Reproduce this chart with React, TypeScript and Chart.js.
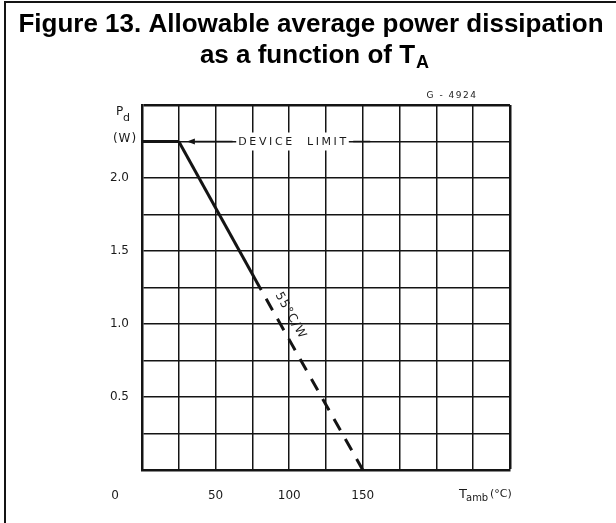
import React, { useEffect, useRef } from "react";
import { Chart, registerables } from "chart.js";

Chart.register(...registerables);

// ---- data ----
const labeledTempTicks = [50, 100, 150];
const labeledPowerTicks = [0.5, 1.0, 1.5, 2.0];
const deviceLimitT = [0, 25];
const deviceLimitP = [2.25, 2.25];
const deratingSolidT = [25, 80];
const deratingSolidP = [2.25, 1.25];
const deratingDashT = [80, 150];
const deratingDashP = [1.25, 0];

const INK = "#141414";
const SANS = '"Liberation Sans", Arial, Helvetica, sans-serif';
const TECH = '"DejaVu Sans", sans-serif';

const toPoints = (xs: number[], ys: number[]) => xs.map((x, i) => ({ x, y: ys[i] }));

const annotationPlugin = {
  id: "annotations",
  beforeDraw(chart: any) {
    const c = chart.ctx;
    c.save();
    c.fillStyle = "#ffffff";
    c.fillRect(0, 0, chart.width, chart.height);
    c.restore();
  },
  afterDraw(chart: any) {
    const c: CanvasRenderingContext2D = chart.ctx;
    const xs = chart.scales.x;
    const ys = chart.scales.y;
    c.save();

    // outer frame (left + top)
    c.fillStyle = INK;
    c.fillRect(4, 1, 2, chart.height - 1);
    c.fillRect(4, 1, chart.width - 4, 2);

    // title
    c.fillStyle = "#000";
    c.textBaseline = "alphabetic";
    c.textAlign = "left";
    c.font = `bold 26px ${SANS}`;
    const l1 = "Figure 13. Allowable average power dissipation";
    const w1 = c.measureText(l1).width;
    c.fillText(l1, 311 - w1 / 2, 32);
    const l2 = "as a function of T";
    const w2 = c.measureText(l2).width;
    c.font = `bold 18px ${SANS}`;
    const wA = c.measureText("A").width;
    const start2 = 314 - (w2 + wA) / 2;
    c.font = `bold 26px ${SANS}`;
    c.fillText(l2, start2, 63);
    c.font = `bold 18px ${SANS}`;
    c.fillText("A", start2 + w2 + 1, 68);

    // drawing number
    c.fillStyle = "#1a1a1a";
    c.font = `9px ${TECH}`;
    (c as any).letterSpacing = "1.5px";
    c.textAlign = "center";
    c.fillText("G - 4924", 452, 98);

    // y-axis title Pd (W)
    c.textAlign = "left";
    (c as any).letterSpacing = "0px";
    c.font = `12px ${TECH}`;
    c.fillText("P", 116, 115);
    c.font = `11px ${TECH}`;
    c.fillText("d", 123, 121);
    c.font = `12px ${TECH}`;
    c.textAlign = "center";
    (c as any).letterSpacing = "1px";
    c.fillText("(W)", 125, 142);

    // x-axis: "0" and T_amb(°C)
    (c as any).letterSpacing = "0px";
    c.fillText("0", xs.getPixelForValue(0) - 27, 499);
    c.textAlign = "left";
    c.font = `13px ${TECH}`;
    c.fillText("T", 459, 498);
    c.font = `10px ${TECH}`;
    c.fillText("amb", 466, 501);
    c.font = `11px ${TECH}`;
    c.fillText("(°C)", 490, 497);

    // DEVICE LIMIT annotation
    const yL = ys.getPixelForValue(2.25);
    const xTextL = xs.getPixelForValue(64);
    const xTextR = xs.getPixelForValue(140.5);
    c.fillStyle = "#ffffff";
    c.fillRect(xTextL, yL - 9, xTextR - xTextL, 18);
    c.strokeStyle = INK;
    c.lineWidth = 1.5;
    const xArrow = xs.getPixelForValue(30.5);
    c.beginPath();
    c.moveTo(xArrow + 5, yL);
    c.lineTo(xs.getPixelForValue(61.5), yL);
    c.moveTo(xs.getPixelForValue(143.5), yL);
    c.lineTo(xs.getPixelForValue(155), yL);
    c.stroke();
    c.fillStyle = INK;
    c.beginPath();
    c.moveTo(xArrow, yL);
    c.lineTo(xArrow + 8, yL - 3);
    c.lineTo(xArrow + 8, yL + 3);
    c.closePath();
    c.fill();
    c.fillStyle = "#1a1a1a";
    c.font = `11px ${TECH}`;
    (c as any).letterSpacing = "2.6px";
    c.textAlign = "center";
    c.textBaseline = "middle";
    c.fillText("DEVICE  LIMIT", (xTextL + xTextR) / 2 + 1, yL + 0.5);

    // slope label along the dashed line
    const x0 = xs.getPixelForValue(deratingDashT[0]);
    const y0 = ys.getPixelForValue(deratingDashP[0]);
    const x1 = xs.getPixelForValue(deratingDashT[1]);
    const y1 = ys.getPixelForValue(deratingDashP[1]);
    const ang = Math.atan2(y1 - y0, x1 - x0);
    const t = 0.19;
    const px = x0 + (x1 - x0) * t + Math.sin(ang) * 13;
    const py = y0 + (y1 - y0) * t - Math.cos(ang) * 13;
    c.translate(px, py);
    c.rotate(ang);
    (c as any).letterSpacing = "1px";
    c.font = `12px ${TECH}`;
    c.fillText("55°C/W", 0, 0);
    c.restore();
  },
};

export default function App() {
  const ref = useRef<HTMLCanvasElement>(null);
  useEffect(() => {
    const canvas = ref.current!;
    const lineDs = (xs: number[], ys: number[], dash: number[] = []) => ({
      data: toPoints(xs, ys),
      showLine: true,
      borderColor: INK,
      backgroundColor: INK,
      borderWidth: 3,
      borderDash: dash,
      borderDashOffset: dash.length ? 10 : 0,
      borderCapStyle: "butt" as const,
      pointRadius: 0,
      pointHoverRadius: 0,
      tension: 0,
    });
    const gridWidth = (max: number) => (ctx: any) =>
      ctx.tick && Math.abs(ctx.tick.value - max) < 1e-9 ? 2.5 : 1.5;

    const chart = new Chart(canvas, {
      type: "scatter",
      data: {
        datasets: [
          lineDs(deviceLimitT, deviceLimitP),
          lineDs(deratingSolidT, deratingSolidP),
          lineDs(deratingDashT, deratingDashP, [13, 10]),
        ],
      },
      options: {
        responsive: false,
        animation: false,
        events: [],
        layout: { padding: { left: 0, top: 105, right: 106, bottom: 0 } },
        plugins: {
          legend: { display: false },
          title: { display: false },
          tooltip: { enabled: false },
        },
        scales: {
          x: {
            type: "linear",
            min: 0,
            max: 250,
            afterFit: (s: any) => {
              s.height = 53;
            },
            ticks: {
              stepSize: 25,
              autoSkip: false,
              maxRotation: 0,
              padding: 19,
              color: "#1a1a1a",
              font: { family: TECH, size: 12 },
              callback: (v: any) => (labeledTempTicks.includes(Number(v)) ? String(v) : ""),
            },
            grid: { color: INK, lineWidth: gridWidth(250), drawTicks: false },
            border: { display: true, color: INK, width: 2.5 },
          },
          y: {
            type: "linear",
            min: 0,
            max: 2.5,
            afterFit: (s: any) => {
              s.width = 142;
            },
            ticks: {
              stepSize: 0.25,
              autoSkip: false,
              padding: 13,
              color: "#1a1a1a",
              font: { family: TECH, size: 12 },
              callback: (v: any) =>
                labeledPowerTicks.includes(Number(v)) ? Number(v).toFixed(1) : "",
            },
            grid: { color: INK, lineWidth: gridWidth(2.5), drawTicks: false },
            border: { display: true, color: INK, width: 2.5 },
          },
        },
      },
      plugins: [annotationPlugin],
    });
    return () => chart.destroy();
  }, []);

  return (
    <div style={{ position: "absolute", left: 0, top: 0, width: 616, height: 523, background: "#fff" }}>
      <canvas ref={ref} width={616} height={523} style={{ display: "block", width: 616, height: 523 }} />
    </div>
  );
}
